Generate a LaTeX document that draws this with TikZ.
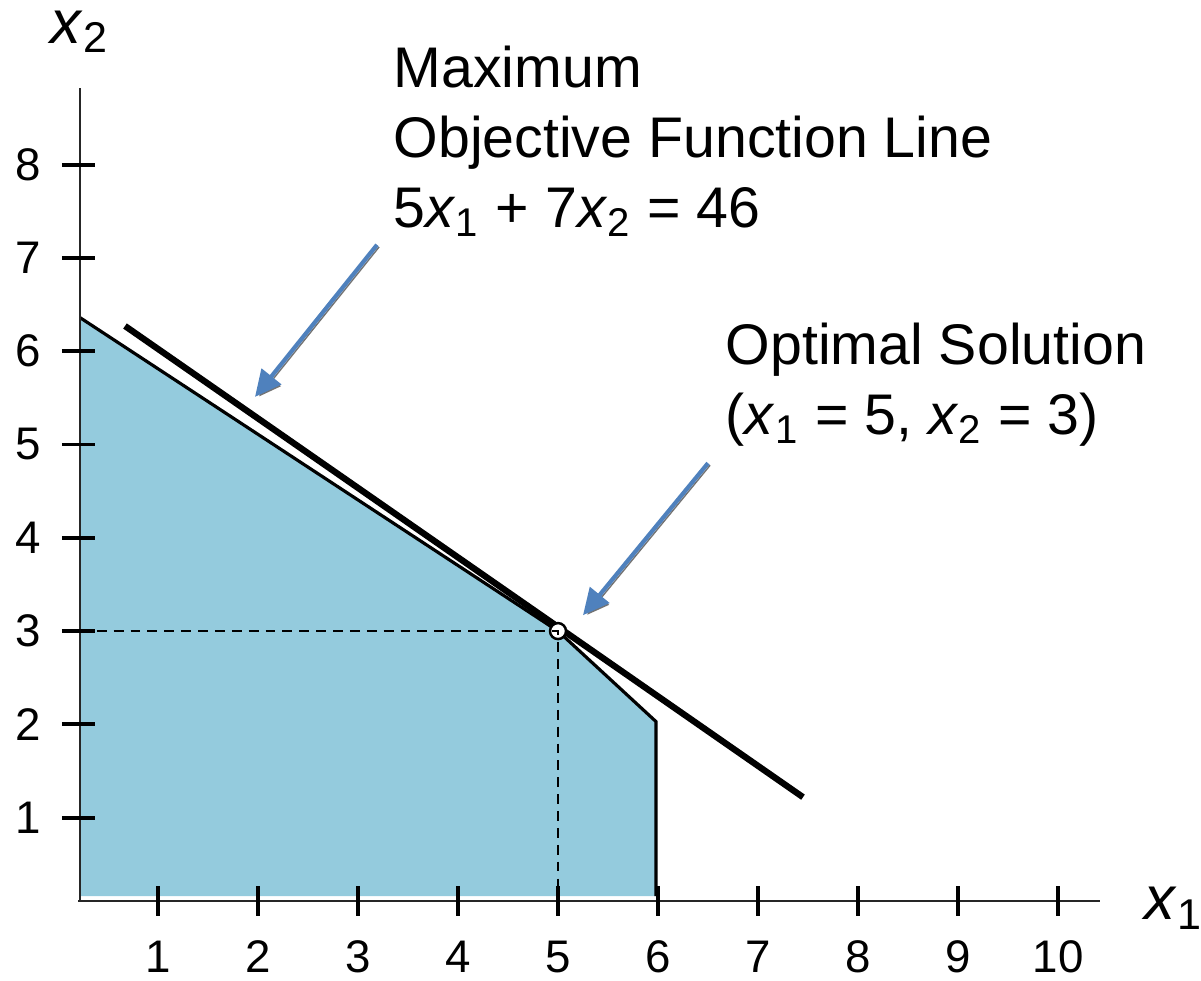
\documentclass[tikz,border=0pt]{standalone}
\usepackage{fontspec}
\setmainfont{Liberation Sans}
\usetikzlibrary{arrows.meta}
\definecolor{feasblue}{RGB}{148,203,221}
\definecolor{callblue}{RGB}{79,129,189}
\newcommand{\xv}[1]{\textit{x}\textsubscript{#1}}
\begin{document}
\begin{tikzpicture}[x=1cm, y=0.933cm,
  every node/.style={font=\fontsize{13}{15}\selectfont},
  axisline/.style={line width=0.8pt, black!85},
  tickmark/.style={line width=1.1pt},
  notetext/.style={align=left, inner sep=0pt, font=\fontsize{16.3}{19.8}\selectfont},
  axislabel/.style={inner sep=0pt, font=\fontsize{17.5}{20}\selectfont},
  callout/.style={callblue, line width=1.2pt, -{Triangle[length=7.5pt,width=7pt]},
    preaction={draw=black!55, transform canvas={shift={(0.6pt,-0.6pt)}}}}]
  \useasboundingbox (-0.58,-0.750) rectangle (11.43,9.764);
  % Feasible region
  \fill[feasblue] (0.22,6.36) -- (5,3) -- (5.98,2.03) -- (5.98,0.16) -- (0.22,0.16) -- cycle;
  \draw[line width=0.9pt] (0.22,6.36) -- (5,3) -- (5.98,2.03) -- (5.98,0.16);
  % Axes
  \draw[axisline] (0.22,8.82) -- (0.22,0.107);
  \draw[axisline] (0.20,0.107) -- (10.42,0.107);
  \foreach \i in {1,...,10} {
    \draw[tickmark] (\i,0.267) -- (\i,-0.053);
    \node (xt\i) at (\i,-0.49) {\i};
  }
  \foreach \k in {1,...,8} {
    \draw[tickmark] (0.04,\k) -- (0.37,\k);
    \node[anchor=east, inner sep=0pt] (yt\k) at (-0.16,\k) {\k};
  }
  \node[axislabel, anchor=base west] (xonelab) at (10.86,-0.096) {\xv{1}};
  \node[axislabel, anchor=base west] (xtwolab) at (-0.08,9.30) {\xv{2}};
  % Objective function line
  \draw[line width=1.8pt] (0.67,6.27) -- (7.45,1.22);
  % Optimal point
  \node[circle, draw, fill=white, inner sep=0pt, minimum size=0.16cm, line width=0.7pt] (opt) at (5,3) {};
  \draw[dashed, line width=0.6pt, dash pattern=on 2.8pt off 2pt] (0.22,3) -- (opt.center) -- (5,0.107);
  % Notes (anchored at the baseline of their last line)
  \node[notetext, anchor=base west] (objnote) at (3.35,7.33) {Maximum\\Objective Function Line\\5\xv{1} + 7\xv{2} = 46};
  \node[notetext, anchor=base west] (optnote) at (6.67,5.11) {Optimal Solution\\(\xv{1} = 5, \xv{2} = 3)};
  \coordinate (objtail) at (3.19,7.14);
  \coordinate (objtip) at (1.97,5.51);
  \coordinate (opttail) at (6.50,4.80);
  \coordinate (opttip) at (5.25,3.17);
  \draw[callout] (objtail) -- (objtip);
  \draw[callout] (opttail) -- (opttip);
\end{tikzpicture}
\end{document}
